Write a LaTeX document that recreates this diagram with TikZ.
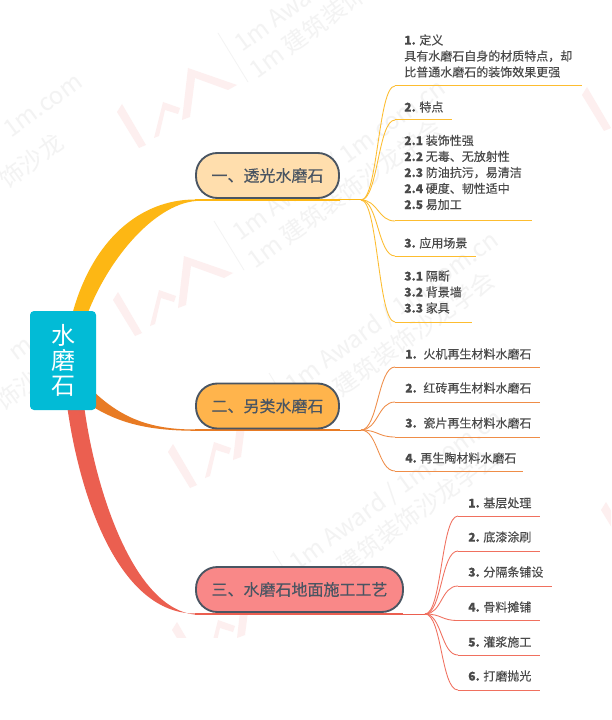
\documentclass[tikz,border=0pt]{standalone}
\usepackage{fontspec}
\setmainfont{Noto Sans CJK SC}
\newfontfamily\cjkheavy{Noto Sans CJK SC}[FakeBold=0.3]
\usepackage{xcolor}
\usetikzlibrary{calc}

\definecolor{rootblue}{HTML}{02BBD6}
\definecolor{inkgrey}{HTML}{4A4A4A}
\definecolor{edgeslate}{HTML}{4A5562}
\definecolor{yellowline}{HTML}{FDB714}
\definecolor{orangeline}{HTML}{E87B24}
\definecolor{redline}{HTML}{EB5F50}
\definecolor{yellowtwig}{HTML}{FDBD30}
\definecolor{orangetwig}{HTML}{EF8D48}
\definecolor{redtwig}{HTML}{F0705F}
\definecolor{wmgrey}{HTML}{F3F3F3}
\definecolor{wmpink}{HTML}{FDEFEF}

\tikzset{
  rootbox/.style={fill=rootblue,text=white,rounded corners=3pt,inner sep=0pt,outer sep=0pt,
    minimum width=49.5pt,minimum height=74.25pt,align=center,font=\fontsize{18}{18.75}\selectfont},
  topic/.style={draw=edgeslate,line width=1.4pt,rounded corners=16pt,inner sep=0pt,outer sep=0pt,
    minimum height=33.75pt,text=edgeslate,font=\cjkheavy\fontsize{12}{14}\selectfont},
  leaf/.style={anchor=west,inner sep=0pt,align=left,text=inkgrey,font=\cjkheavy\fontsize{9}{12}\selectfont},
  twig/.style={line width=0.65pt,to path={.. controls +(17,0) and +(-17,0) .. (\tikztotarget)}},
  wmtext/.style={anchor=west,inner sep=0pt,rotate=36,text=wmgrey,font=\fontsize{18}{20}\selectfont},
  wmlogo/.pic={
    \fill[wmpink] (0,0) -- (5,-8) -- (29,33) -- (22,36) -- cycle;
    \fill[wmpink] (37,26) -- (46,-10) -- (63,-4) -- (61,2) -- (48,-2) -- (42,24) -- cycle;
    \fill[wmpink] (65,8) -- (71,-44) -- (120,-27) -- (111,-22) -- (78,-34) -- (73,5) -- cycle;
    \draw[wmgrey,line width=0.6pt] (101,-79) -- (131,-30);
  },
}

\begin{document}
\begin{tikzpicture}[x=0.75pt,y=-0.75pt]
      \clip (0,0) rectangle (611,720);
      \fill[white] (0,0) rectangle (611,720);

      % background marks
      \begin{scope}
        \clip (0,0) rectangle (611,637);
        \pic at (117,112) {wmlogo};
        \pic at (113,300) {wmlogo};
        \pic at (168,452) {wmlogo};
        \pic at (172,630) {wmlogo};
        \pic at (582,95) {wmlogo};
        \pic at (601,510) {wmlogo};
      \end{scope}
      \node[wmtext] (w1a) at (238,47) {1m Award / 1m.com.cn};
      \node[wmtext] (w1b) at (252,72) {1m 建筑装饰沙龙学会};
      \node[wmtext] (w2a) at (236,236) {1m Award / 1m.com.cn};
      \node[wmtext] (w2b) at (250,262) {1m 建筑装饰沙龙学会};
      \node[wmtext] (w3a) at (289,388) {1m Award / 1m.com.cn};
      \node[wmtext] (w3b) at (303,414) {1m 建筑装饰沙龙学会};
      \node[wmtext] (w4a) at (293,566) {1m Award / 1m.com.cn};
      \node[wmtext] (w4b) at (307,592) {1m 建筑装饰沙龙学会};
      \node[wmtext] (w5a) at (6,132) {1m.com};
      \node[wmtext] (w5b) at (2,182) {饰沙龙};
      \node[wmtext] (w6a) at (12,356) {m};
      \node[wmtext] (w6b) at (-2,404) {饰沙};

      % thick limbs out of the root
      \coordinate (r1a) at (72,315);
      \coordinate (r1b) at (87,315);
      \coordinate (s1a) at (195,199.5);
      \coordinate (s1b) at (200,200.8);
      \fill[yellowline] (r1a) .. controls (92,240) and (140,199.5) .. (s1a)
        -- (s1b) .. controls (158,201) and (110,255) .. (r1b) -- cycle;

      \coordinate (r2a) at (90,388);
      \coordinate (r2b) at (90,405);
      \coordinate (s2a) at (195,429.5);
      \coordinate (s2b) at (200,430.8);
      \fill[orangeline] (r2a) .. controls (120,418) and (150,429.5) .. (s2a)
        -- (s2b) .. controls (150,431) and (120,424) .. (r2b) -- cycle;

      \coordinate (r3a) at (67,405);
      \coordinate (r3b) at (84,405);
      \coordinate (s3a) at (195,613.5);
      \coordinate (s3b) at (200,614.8);
      \fill[redline] (r3a) .. controls (80,500) and (120,613.5) .. (s3a)
        -- (s3b) .. controls (135,614.8) and (95,490) .. (r3b) -- cycle;

      \node[rootbox] (root) at (63,360.5) {水\\磨\\石};

      % junctions
      \coordinate (s1) at (195,200);
      \coordinate (t1) at (340,200);
      \coordinate (j1) at (361,200);
      \coordinate (s2) at (195,430);
      \coordinate (t2) at (340,430);
      \coordinate (j2) at (361,430);
      \coordinate (s3) at (195,614);
      \coordinate (t3) at (403,614);
      \coordinate (j3) at (425,614);
      \draw[yellowline,line width=1.2pt] (s1) -- (t1);
      \draw[yellowline,line width=0.75pt] (t1) -- (j1);
      \draw[orangeline,line width=1.2pt] (s2) -- (t2);
      \draw[orangeline,line width=0.75pt] (t2) -- (j2);
      \draw[redline,line width=1.2pt] (s3) -- (t3);
      \draw[redline,line width=0.75pt] (t3) -- (j3);

      \node[topic,fill={rgb,255:red,255;green,222;blue,173},minimum width=107.25pt] (a) at (267.5,175.5) {一、透光水磨石};
      \node[topic,fill={rgb,255:red,255;green,180;blue,76},minimum width=107.25pt] (b) at (267.5,406) {二、另类水磨石};
      \node[topic,fill={rgb,255:red,249;green,136;blue,136},minimum width=155.25pt] (c) at (299.5,589.5) {三、水磨石地面施工工艺};

      % first group
      \coordinate (a1) at (395,86);
      \coordinate (a2) at (395,120);
      \coordinate (a3) at (395,221);
      \coordinate (a4) at (395,256);
      \coordinate (a5) at (395,322);
      \coordinate (e1) at (582,86);
      \coordinate (e2) at (452,120);
      \coordinate (e3) at (532,221);
      \coordinate (e4) at (476,256);
      \coordinate (e5) at (472,322);
      \path[twig,draw=yellowtwig] (j1) edge (a1) edge (a2) edge (a3) edge (a4) edge (a5);
      \path[draw=yellowtwig,line width=0.75pt] (a1) -- (e1) (a2) -- (e2) (a3) -- (e3) (a4) -- (e4) (a5) -- (e5);
      \node[leaf] (la1) at (404,56) {\textbf{1.} 定义\\具有水磨石自身的材质特点，却\\比普通水磨石的装饰效果更强};
      \node[leaf] (la2) at (404,107) {\textbf{2.} 特点};
      \node[leaf] (la3) at (404,172.5) {\textbf{2.1} 装饰性强\\\textbf{2.2} 无毒、无放射性\\\textbf{2.3} 防油抗污，易清洁\\\textbf{2.4} 硬度、韧性适中\\\textbf{2.5} 易加工};
      \node[leaf] (la4) at (404,243) {\textbf{3.} 应用场景};
      \node[leaf] (la5) at (404,292) {\textbf{3.1} 隔断\\\textbf{3.2} 背景墙\\\textbf{3.3} 家具};

      % second group
      \coordinate (b1) at (395,367);
      \coordinate (b2) at (395,402);
      \coordinate (b3) at (395,437);
      \coordinate (b4) at (395,471);
      \coordinate (f1) at (540,367);
      \coordinate (f2) at (540,402);
      \coordinate (f3) at (540,437);
      \coordinate (f4) at (523,471);
      \path[twig,draw=orangetwig] (j2) edge (b1) edge (b2) edge (b3) edge (b4);
      \path[draw=orangetwig,line width=0.75pt] (b1) -- (f1) (b2) -- (f2) (b3) -- (f3) (b4) -- (f4);
      \node[leaf] (lb1) at (405,354) {\textbf{1.}\hspace{5pt}火机再生材料水磨石};
      \node[leaf] (lb2) at (405,388) {\textbf{2.}\hspace{5pt}红砖再生材料水磨石};
      \node[leaf] (lb3) at (405,423) {\textbf{3.}\hspace{5pt}瓷片再生材料水磨石};
      \node[leaf] (lb4) at (405,458) {\textbf{4.} 再生陶材料水磨石};

      % third group
      \coordinate (c1) at (458,516);
      \coordinate (c2) at (458,551);
      \coordinate (c3) at (458,586);
      \coordinate (c4) at (458,620.5);
      \coordinate (c5) at (458,655);
      \coordinate (c6) at (458,690);
      \coordinate (g1) at (540,516);
      \coordinate (g2) at (540,551);
      \coordinate (g3) at (552,586);
      \coordinate (g4) at (540,620.5);
      \coordinate (g5) at (540,655);
      \coordinate (g6) at (540,690);
      \path[twig,draw=redtwig] (j3) edge (c1) edge (c2) edge (c3) edge (c4) edge (c5) edge (c6);
      \path[draw=redtwig,line width=0.75pt] (c1) -- (g1) (c2) -- (g2) (c3) -- (g3) (c4) -- (g4) (c5) -- (g5) (c6) -- (g6);
      \node[leaf] (lc1) at (468,503) {\textbf{1.} 基层处理};
      \node[leaf] (lc2) at (468,537) {\textbf{2.} 底漆涂刷};
      \node[leaf] (lc3) at (468,572) {\textbf{3.} 分隔条铺设};
      \node[leaf] (lc4) at (468,607) {\textbf{4.} 骨料摊铺};
      \node[leaf] (lc5) at (468,642) {\textbf{5.} 灌浆施工};
      \node[leaf] (lc6) at (468,676) {\textbf{6.} 打磨抛光};
    \end{tikzpicture}
\end{document}
